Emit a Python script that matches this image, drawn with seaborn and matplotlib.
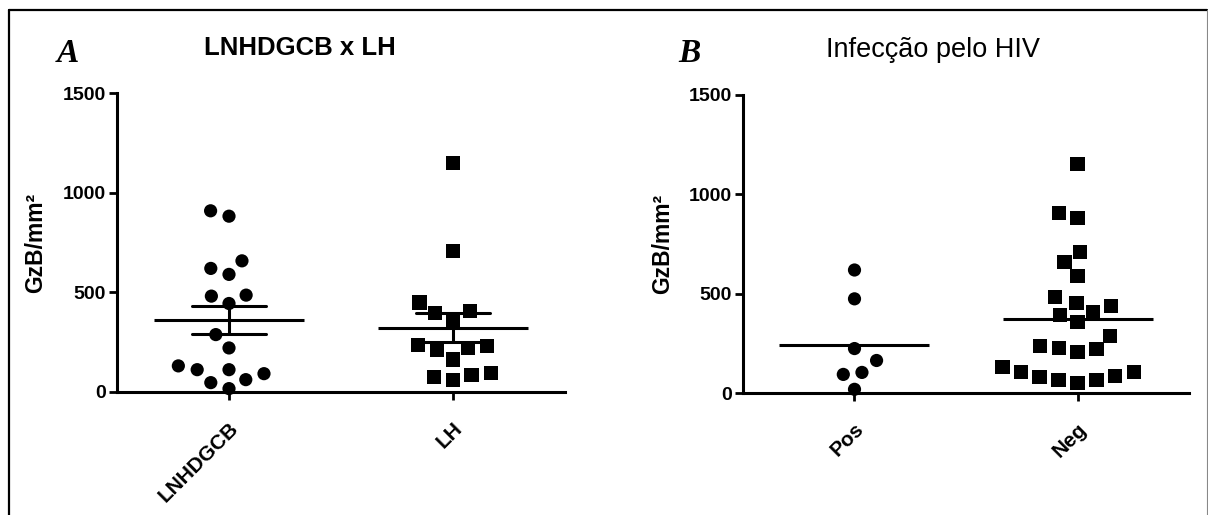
import numpy as np
import pandas as pd
import matplotlib
matplotlib.use("Agg")
import matplotlib.pyplot as plt
from matplotlib.lines import Line2D
import seaborn as sns

# ---- data (GzB/mm²) ----
groups_a = ["LNHDGCB", "LH"]
groups_b = ["Pos", "Neg"]
lnhdgcb = [909, 882, 658, 590, 620, 481, 486, 444, 288, 221, 112, 112, 131, 92, 62, 47, 17]
lh = [1150, 707, 449, 405, 397, 360, 230, 213, 221, 235, 163, 87, 62, 75, 97]
pos = [620, 475, 225, 165, 105, 95, 20]
neg = [1153, 883, 905, 712, 659, 591, 483, 456, 441, 410, 394, 357, 288, 238, 221,
       206, 229, 131, 109, 87, 67, 50, 67, 80, 109]
yticks = [0, 500, 1000, 1500]
title_a = "LNHDGCB x LH"
title_b = "Infecção pelo HIV"
ylabel = "GzB/mm²"

sns.set_theme(style="ticks")
plt.rcParams["font.family"] = ["Liberation Sans", "DejaVu Sans"]
plt.rcParams["axes.edgecolor"] = "black"
plt.rcParams["xtick.color"] = "black"
plt.rcParams["ytick.color"] = "black"
plt.rcParams["text.color"] = "black"
plt.rcParams["axes.labelcolor"] = "black"

W, H = 1208, 515
fig = plt.figure(figsize=(W / 100, H / 100), dpi=100)
fig.patch.set_facecolor("white")

axA = fig.add_axes([117 / W, (H - 392) / H, 448 / W, 299 / H])
axB = fig.add_axes([743 / W, (H - 393.3) / H, 446 / W, 298.3 / H])


def swarm(ax, cat, vals, order, marker, size, lw):
    n_before = len(ax.collections)
    sns.swarmplot(x=[cat] * len(vals), y=vals, order=order, marker=marker,
                  color="black", size=size, linewidth=lw, edgecolor="none",
                  ax=ax)
    for coll in ax.collections[n_before:]:
        if len(coll.get_offsets()) > 0:
            coll.set_clip_on(False)


# Panel A
swarm(axA, "LNHDGCB", lnhdgcb, groups_a, "o", 9.5, 3.7)
swarm(axA, "LH", lh, groups_a, "s", 10.2, 3.0)
sns.pointplot(x=["LNHDGCB"] * len(lnhdgcb) + ["LH"] * len(lh), y=lnhdgcb + lh,
              order=groups_a, errorbar="se", capsize=0.33, color="black",
              markers="_", markersize=108, markeredgewidth=2.2, linewidth=2.2,
              linestyle="none", err_kws={"linewidth": 2.2}, ax=axA)

# Panel B
swarm(axB, "Pos", pos, groups_b, "o", 9.5, 3.7)
swarm(axB, "Neg", neg, groups_b, "s", 10.2, 3.0)
sns.pointplot(x=["Pos"] * len(pos) + ["Neg"] * len(neg), y=pos + neg,
              order=groups_b, errorbar=None, color="black",
              markers="_", markersize=108, markeredgewidth=2.2, linewidth=2.2,
              linestyle="none", ax=axB)

for ax in (axA, axB):
    ax.set_xlim(-0.5, 1.5)
    ax.set_ylim(0, 1500)
    ax.set_yticks(yticks)
    ax.set_yticklabels([str(t) for t in yticks], fontsize=14, fontweight="bold")
    ax.set_xlabel("")
    ax.set_ylabel(ylabel, fontsize=16.5, fontweight="bold")
    ax.yaxis.set_label_coords(-0.155, 0.5)
    for s in ("top", "right"):
        ax.spines[s].set_visible(False)
    for s in ("left", "bottom"):
        ax.spines[s].set_linewidth(2.2)
        ax.spines[s].set_color("black")
    ax.tick_params(axis="both", direction="out", length=6, width=2, color="black")
    ax.tick_params(axis="y", pad=2)
    ax.tick_params(axis="x", pad=13)
    for lab in ax.get_xticklabels():
        lab.set_rotation(45)
        lab.set_ha("right")
        lab.set_va("top")
        lab.set_rotation_mode("anchor")
        lab.set_fontsize(15)
        lab.set_fontweight("bold")
    ax.set_facecolor("white")
    ax.grid(False)

# titles and panel letters
fig.text(300 / W, 1 - 55 / H, title_a, ha="center", va="baseline",
         fontsize=18.5, fontweight="bold")
fig.text(933 / W, 1 - 57 / H, title_b, ha="center", va="baseline",
         fontsize=19.5)
fig.text(57 / W, 1 - 62 / H, "A", ha="left", va="baseline", fontsize=24,
         style="italic", fontweight="bold", family="Liberation Serif")
fig.text(678 / W, 1 - 62 / H, "B", ha="left", va="baseline", fontsize=24,
         style="italic", fontweight="bold", family="Liberation Serif")

# outer frame (left, top black; right thin gray)
fig.add_artist(Line2D([8.5 / W, 8.5 / W], [0, 1 - 10 / H], transform=fig.transFigure,
                      color="black", lw=1.6))
fig.add_artist(Line2D([8.5 / W, 1206.5 / W], [1 - 10 / H, 1 - 10 / H],
                      transform=fig.transFigure, color="black", lw=1.6))
fig.add_artist(Line2D([1206.5 / W, 1206.5 / W], [0, 1 - 10 / H], transform=fig.transFigure,
                      color="#888888", lw=0.8))

fig.savefig("out.png", dpi=100, facecolor="white")
